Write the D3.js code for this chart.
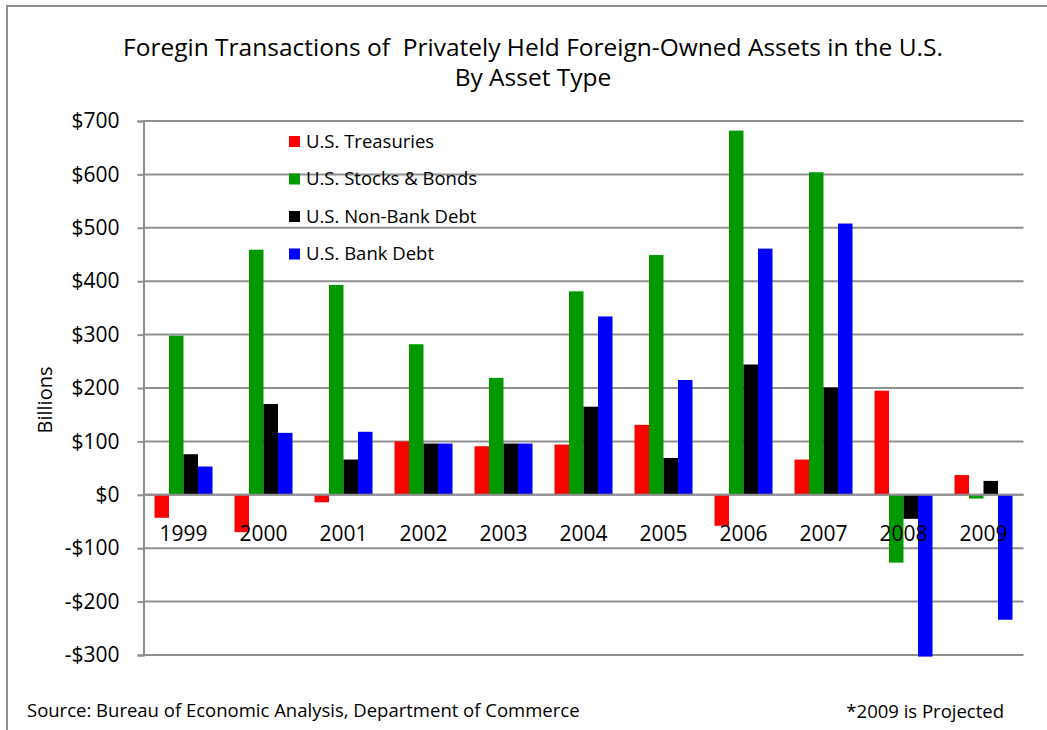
<!DOCTYPE html>
<html>
<head>
<meta charset="utf-8">
<script src="https://cdn.jsdelivr.net/npm/d3@7"></script>
<style>
  body { margin: 0; background: #fff; }
  svg { display: block; font-family: "Open Sans", "Noto Sans", sans-serif; }
</style>
</head>
<body>
<svg id="chart" width="1047" height="730"></svg>
<script>
const years = ["1999", "2000", "2001", "2002", "2003", "2004", "2005", "2006", "2007", "2008", "2009"];
const seriesNames = ["U.S. Treasuries", "U.S. Stocks & Bonds", "U.S. Non-Bank Debt", "U.S. Bank Debt"];
const seriesColors = ["#ff0000", "#009900", "#000000", "#0000ff"];
const treasuries = [-43, -70, -14, 100, 91, 94, 131, -58, 66, 195, 37];
const stocksBonds = [298, 459, 393, 282, 219, 381, 449, 682, 604, -127, -7];
const nonBankDebt = [76, 170, 66, 96, 96, 165, 69, 244, 201, -45, 26];
const bankDebt = [53, 116, 118, 96, 96, 334, 215, 461, 508, -303, -234];
const yTicks = [-300, -200, -100, 0, 100, 200, 300, 400, 500, 600, 700];

const allSeries = [treasuries, stocksBonds, nonBankDebt, bankDebt];

const margin = {top: 121, right: 24, bottom: 75, left: 143.5};
const plotW = 1023.5 - margin.left;
const plotH = 655 - margin.top;

const svg = d3.select("#chart");

// outer frame (only top and left visible)
svg.append("path")
    .attr("d", "M7,730 V6 H1047")
    .attr("fill", "none")
    .attr("stroke", "#8f8f8f")
    .attr("stroke-width", 2);

const x0 = d3.scaleBand().domain(years).range([0, plotW]).paddingInner(0.275).paddingOuter(0.1375);
const x1 = d3.scaleBand().domain(d3.range(seriesNames.length)).range([0, x0.bandwidth()]);
const y = d3.scaleLinear().domain([-300, 700]).range([plotH, 0]);

const g = svg.append("g").attr("transform", `translate(${margin.left},${margin.top})`);

// gridlines
g.append("g")
    .selectAll("line")
    .data(yTicks)
    .join("line")
    .attr("x1", 0)
    .attr("x2", plotW)
    .attr("y1", d => y(d))
    .attr("y2", d => y(d))
    .attr("stroke", "#8f8f8f")
    .attr("stroke-width", 2);

// y axis
const yAxis = g.append("g")
    .call(d3.axisLeft(y).tickValues(yTicks).tickSize(6).tickPadding(18)
        .tickFormat(d => (d < 0 ? "-$" : "$") + Math.abs(d)));
yAxis.select(".domain").attr("stroke", "#8f8f8f").attr("stroke-width", 2);
yAxis.selectAll(".tick line").attr("stroke", "#8f8f8f").attr("stroke-width", 2);
yAxis.selectAll(".tick text").attr("font-size", 21).attr("fill", "#000").attr("font-family", "Open Sans");

// bars
const rows = years.map((yr, i) => ({year: yr, values: allSeries.map(s => s[i])}));
g.append("g")
    .selectAll("g")
    .data(rows)
    .join("g")
    .attr("transform", d => `translate(${x0(d.year)},0)`)
    .selectAll("rect")
    .data(d => d.values.map((v, k) => ({k, v})))
    .join("rect")
    .attr("x", d => x1(d.k))
    .attr("width", x1.bandwidth())
    .attr("y", d => y(Math.max(0, d.v)))
    .attr("height", d => Math.abs(y(d.v) - y(0)))
    .attr("fill", d => seriesColors[d.k]);

// zero line on top of bars
g.append("line")
    .attr("x1", 0)
    .attr("x2", plotW)
    .attr("y1", y(0))
    .attr("y2", y(0))
    .attr("stroke", "#8f8f8f")
    .attr("stroke-width", 2);

// year labels, next to the zero line
g.append("g")
    .selectAll("text")
    .data(years)
    .join("text")
    .attr("x", d => x0(d) + x0.bandwidth() / 2)
    .attr("y", y(0) + 46)
    .attr("text-anchor", "middle")
    .attr("font-size", 21)
    .text(d => d);

// legend
const legend = svg.append("g").attr("transform", "translate(289,136)");
const item = legend.selectAll("g")
    .data(seriesNames)
    .join("g")
    .attr("transform", (d, i) => `translate(0,${i * 37.5})`);
item.append("rect")
    .attr("width", 11)
    .attr("height", 11)
    .attr("fill", (d, i) => seriesColors[i]);
item.append("text")
    .attr("x", 17)
    .attr("y", 11.5)
    .attr("font-size", 18.5)
    .text(d => d);

// title
svg.append("text")
    .attr("x", 533)
    .attr("y", 56)
    .attr("text-anchor", "middle")
    .attr("font-size", 24.5)
    .attr("xml:space", "preserve")
    .text("Foregin Transactions of  Privately Held Foreign-Owned Assets in the U.S.");
svg.append("text")
    .attr("x", 533)
    .attr("y", 86)
    .attr("text-anchor", "middle")
    .attr("font-size", 24.5)
    .text("By Asset Type");

// y axis title
svg.append("text")
    .attr("transform", "translate(52,400) rotate(-90)")
    .attr("text-anchor", "middle")
    .attr("font-size", 20)
    .text("Billions");

// footnotes
svg.append("text")
    .attr("x", 27)
    .attr("y", 717)
    .attr("font-size", 18.5)
    .text("Source: Bureau of Economic Analysis, Department of Commerce");
svg.append("text")
    .attr("x", 1004)
    .attr("y", 718)
    .attr("text-anchor", "end")
    .attr("font-size", 18.5)
    .text("*2009 is Projected");
</script>
</body>
</html>
